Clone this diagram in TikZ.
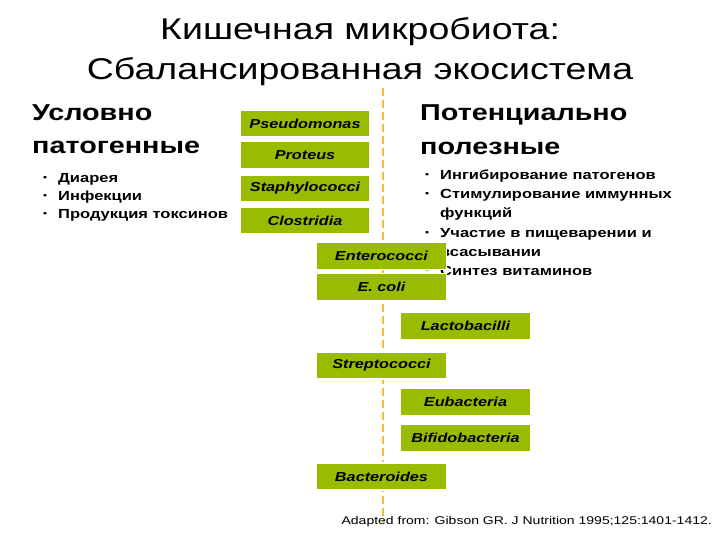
\documentclass[tikz,border=0pt]{standalone}
\usepackage{fontspec}
\setmainfont{Liberation Sans}[FakeStretch=1.25]
\begin{document}
\begin{tikzpicture}[x=1pt,y=-1pt,
 bug/.style={fill=bugc,draw=white,line width=1.5pt,minimum width=130pt,minimum height=27pt,inner sep=0pt,font=\fontsize{13}{14}\selectfont\bfseries\itshape},
 bul/.style={anchor=west,inner sep=0pt,font=\fontsize{13.2}{15}\selectfont\bfseries},
 bm/.style={anchor=west,inner sep=0pt,font=\fontsize{9}{10}\selectfont},
 hd/.style={anchor=west,inner sep=0pt,font=\fontsize{23}{26}\selectfont\bfseries}]
\definecolor{bugc}{HTML}{99BB00}
\definecolor{dashc}{HTML}{F5B841}
\useasboundingbox (0,0) rectangle (720,540);
\coordinate (dt) at (383,88); \coordinate (db) at (383,522);
\draw[dashc,line width=2pt,dash pattern=on 8pt off 4pt] (dt) -- (db);
\node[inner sep=0pt,font=\fontsize{30}{32}\selectfont] (t1) at (360,32) {Кишечная микробиота:};
\node[inner sep=0pt,font=\fontsize{30}{32}\selectfont] (t2) at (360,72) {Сбалансированная экосистема};
\node[hd] (l1) at (32,113) {Условно};
\node[hd] (l2) at (32,147) {патогенные};
\foreach \y/\t [count=\i] in {179/Диарея/запоры,197/Инфекции,215/Продукция токсинов}{
 \node[bm] (lb\i) at (43,\y) {▪};
 \node[bul] (lt\i) at (58,\y) {\t};}
\node[hd] (r1) at (420,115) {Потенциально};
\node[hd] (r2) at (420,148) {полезные};
\foreach \y/\b/\t [count=\i] in {176/1/Ингибирование патогенов,195/1/Стимулирование иммунных,214/0/функций,234/1/Участие в пищеварении и,253/0/всасывании,271/1/Синтез витаминов}{
 \ifnum\b=1 \node[bm] (rb\i) at (425,\y) {▪};\fi
 \node[bul] (rt\i) at (440,\y) {\t};}
\node[bug] (n1) at (305,123.5) {Pseudomonas};
\node[bug] (n2) at (305,155) {Proteus};
\node[bug] (n3) at (305,188.5) {Staphylococci};
\node[bug] (n4) at (305,220.5) {Clostridia};
\node[bug] (n5) at (381.5,256) {Enterococci};
\node[bug] (n6) at (381.5,287) {E. coli};
\node[bug] (n7) at (465.5,326) {Lactobacilli};
\node[bug] (n8) at (381.5,365.5) {Streptococci};
\node[bug] (n9) at (465.5,402) {Eubacteria};
\node[bug] (n10) at (465.5,438) {Bifidobacteria};
\node[bug] (n11) at (381.5,476.5) {Bacteroides};
\node[anchor=east,inner sep=0pt,font=\fontsize{11.2}{12}\selectfont] (cit) at (712,522) {Adapted from: Gibson GR. J Nutrition 1995;125:1401-1412.};
\end{tikzpicture}
\end{document}
